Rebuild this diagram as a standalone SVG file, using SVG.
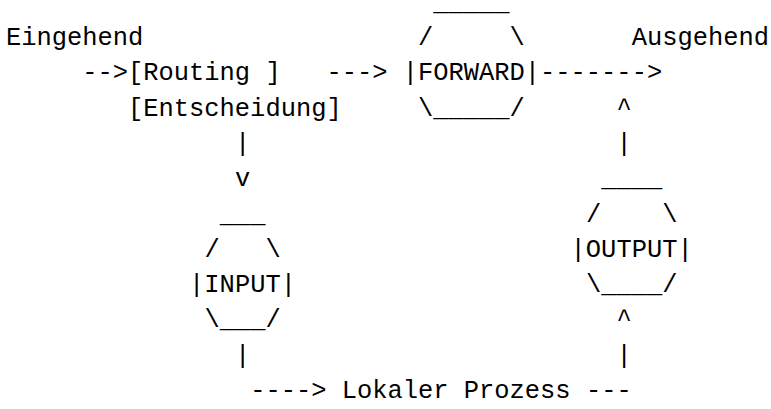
<svg xmlns="http://www.w3.org/2000/svg" width="771" height="409" viewBox="0 0 771 409" xml:space="preserve">
  <style>
    /* one monospace grid: 15.26px per column, 35.3px per row */
    .t { font-family: "Liberation Mono", "DejaVu Sans Mono", monospace; font-size: 25.43px; fill: #000; white-space: pre; }
  </style>
  <rect width="771" height="409" fill="#fff"/>

  <!-- nodes -->
  <g id="eingehend">
    <text class="t" x="6" y="45">Eingehend</text>
  </g>
  <g id="routing">
    <text class="t" x="128.08" y="80.3">[Routing ]</text>
    <text class="t" x="128.08" y="115.6">[Entscheidung]</text>
  </g>
  <g id="forward">
    <text class="t" x="433.28" y="9.7">_____</text>
    <text class="t" x="418.02" y="45">/     \</text>
    <text class="t" x="402.76" y="80.3">|FORWARD|</text>
    <text class="t" x="418.02" y="115.6">\_____/</text>
  </g>
  <g id="ausgehend">
    <text class="t" x="631.66" y="45">Ausgehend</text>
  </g>
  <g id="input">
    <text class="t" x="219.64" y="221.5">___</text>
    <text class="t" x="204.38" y="256.8">/   \</text>
    <text class="t" x="189.12" y="292.1">|INPUT|</text>
    <text class="t" x="204.38" y="327.4">\___/</text>
  </g>
  <g id="output">
    <text class="t" x="601.14" y="186.2">____</text>
    <text class="t" x="585.88" y="221.5">/    \</text>
    <text class="t" x="570.62" y="256.8">|OUTPUT|</text>
    <text class="t" x="585.88" y="292.1">\____/</text>
  </g>
  <g id="lokaler-prozess">
    <text class="t" x="341.72" y="398">Lokaler Prozess</text>
  </g>

  <!-- connectors -->
  <g id="connectors">
    <text class="t" x="82.3" y="80.3">--&gt;</text>
    <text class="t" x="326.46" y="80.3">---&gt;</text>
    <text class="t" x="540.1" y="80.3">-------&gt;</text>
    <text class="t" x="616.4" y="115.6">^</text>
    <text class="t" x="234.9" y="150.9">|</text>
    <text class="t" x="616.4" y="150.9">|</text>
    <text class="t" x="234.9" y="186.2">v</text>
    <text class="t" x="616.4" y="327.4">^</text>
    <text class="t" x="234.9" y="362.7">|</text>
    <text class="t" x="616.4" y="362.7">|</text>
    <text class="t" x="250.16" y="398">----&gt;</text>
    <text class="t" x="585.88" y="398">---</text>
  </g>
</svg>
